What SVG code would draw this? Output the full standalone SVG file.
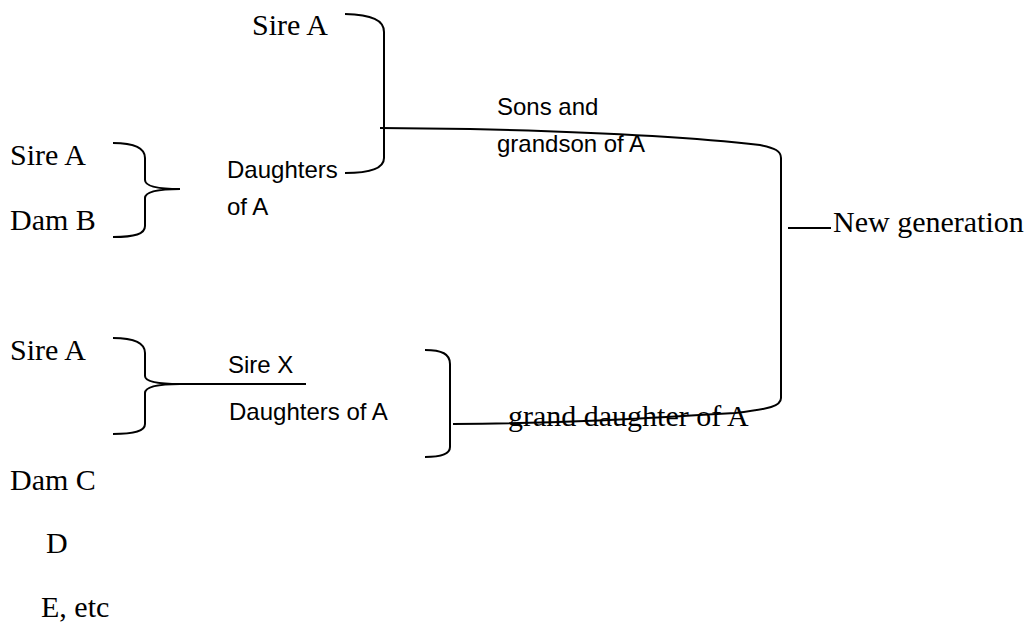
<svg xmlns="http://www.w3.org/2000/svg" width="1028" height="624" viewBox="0 0 1028 624">
<style>
.serif{font-family:"Liberation Serif","Times New Roman",serif;font-size:30px;fill:#000}
.sans{font-family:"Liberation Sans",Arial,sans-serif;font-size:24px;fill:#000}
.ln{fill:none;stroke:#000;stroke-width:2}
</style>
<rect width="1028" height="624" fill="#fff"/>
<g id="connectors">
<path class="ln" d="M345,14 C372,15 384,20 384,32 L384,158 C384,168 372,173 345,173"/>
<path class="ln" d="M113,143 C135,143 145,148 145,158 L145,180 C145,186 155,189 180,189 C155,189 145,192 145,198 L145,226 C145,234 135,237 113,237"/>
<path class="ln" d="M113,338 C135,338 145,343 145,353 L145,376 C145,381 155,384 180,384 C155,384 145,387 145,393 L145,424 C145,431 135,434 113,434"/>
<path class="ln" d="M180,384 L306,384"/>
<path class="ln" d="M425,350 C442,350 450,354 450,364 L450,447 C450,454 442,457 425,457"/>
<path class="ln" d="M380,128 L470,129 C600,132 700,138 760,145 C775,148 781,151 781,158 L781,398 C781,406 770,409 735,413 C620,420 560,423 453,424"/>
<path class="ln" d="M788,228 L831,228"/>
</g>
<g id="n-sireA-top"><text class="serif" x="252" y="35">Sire A</text></g>
<g id="n-sireA-1"><text class="serif" x="10" y="165">Sire A</text></g>
<g id="n-damB"><text class="serif" x="10" y="230">Dam B</text></g>
<g id="n-daughters-1"><text class="sans" x="227" y="178">Daughters</text><text class="sans" x="227" y="215">of A</text></g>
<g id="n-sons"><text class="sans" x="497" y="115">Sons and</text><text class="sans" x="497" y="152">grandson of A</text></g>
<g id="n-newgen"><text class="serif" x="833" y="232">New generation</text></g>
<g id="n-sireA-2"><text class="serif" x="10" y="360">Sire A</text></g>
<g id="n-sireX"><text class="sans" x="228" y="373">Sire X</text></g>
<g id="n-daughters-2"><text class="sans" x="229" y="420">Daughters of A</text></g>
<g id="n-granddaughter"><text class="serif" x="508" y="426">grand daughter of A</text></g>
<g id="n-damC"><text class="serif" x="10" y="490">Dam C</text></g>
<g id="n-D"><text class="serif" x="46" y="553">D</text></g>
<g id="n-E"><text class="serif" x="41" y="617">E, etc</text></g>
</svg>
